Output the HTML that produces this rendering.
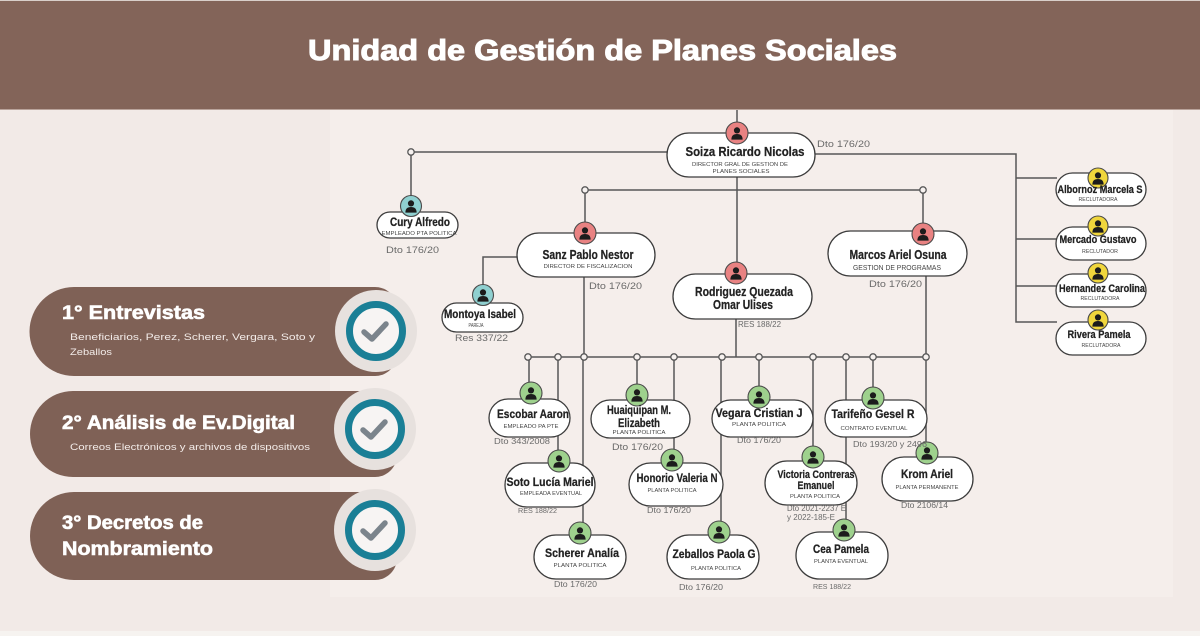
<!DOCTYPE html>
<html>
<head>
<meta charset="utf-8">
<style>
  html,body{margin:0;padding:0;width:1200px;height:636px;overflow:hidden;background:#f2eae7;}
  svg{display:block;}
  .n{font-family:"Liberation Sans",sans-serif;font-weight:bold;font-size:12px;fill:#222222;stroke:#222222;stroke-width:0.25px;text-anchor:middle;}
  .s{font-family:"Liberation Sans",sans-serif;font-size:5.5px;fill:#454545;text-anchor:middle;}
  .d{font-family:"Liberation Sans",sans-serif;font-size:9.5px;fill:#6a6a6a;}
  .lt{font-family:"Liberation Sans",sans-serif;font-weight:bold;font-size:19px;fill:#ffffff;stroke:#ffffff;stroke-width:0.6px;}
  .ls{font-family:"Liberation Sans",sans-serif;font-size:9.5px;fill:#f3ece9;}
</style>
</head>
<body>
<svg width="1200" height="636" viewBox="0 0 1200 636" xmlns="http://www.w3.org/2000/svg">
  <defs>
    <g id="p">
      <circle cx="0" cy="-2.6" r="3.1" fill="#1c1c1c"/>
      <path d="M-5.6 6.6 Q-5.6 1 0 1 Q5.6 1 5.6 6.6 Z" fill="#1c1c1c"/>
    </g>
  </defs>

  <!-- backgrounds -->
  <rect x="0" y="0" width="1200" height="636" fill="#f2eae7"/>
  <rect x="330" y="110" width="843" height="487" fill="#f5eeeb"/>
  <rect x="0" y="631" width="1200" height="5" fill="#f6f3f0"/>
  <!-- header -->
  <rect x="0" y="0" width="1200" height="1" fill="#d9cfca"/>
  <rect x="0" y="1" width="1200" height="108" fill="#836459"/>
  <rect x="0" y="109" width="1200" height="1" fill="#b9a39b"/>
  <text x="602.5" y="60" textLength="589" lengthAdjust="spacingAndGlyphs" style="font-family:'Liberation Sans',sans-serif;font-weight:bold;font-size:29px;fill:#ffffff;stroke:#ffffff;stroke-width:1px;text-anchor:middle;">Unidad de Gestión de Planes Sociales</text>

  <!-- left panel pills -->
  <path d="M74 287 H375 A22 22 0 0 1 397 309 V354 A22 22 0 0 1 375 376 H74 A44.5 44.5 0 0 1 74 287 Z" fill="#7f6156"/>
  <path d="M73 391 H375 A22 22 0 0 1 397 413 V455 A22 22 0 0 1 375 477 H73 A43 43 0 0 1 73 391 Z" fill="#7f6156"/>
  <path d="M74 492 H375 A22 22 0 0 1 397 514 V558 A22 22 0 0 1 375 580 H74 A44 44 0 0 1 74 492 Z" fill="#7f6156"/>

  <text class="lt" x="62" y="319" textLength="143" lengthAdjust="spacingAndGlyphs">1° Entrevistas</text>
  <text class="ls" x="70" y="340" textLength="245" lengthAdjust="spacingAndGlyphs">Beneficiarios, Perez, Scherer, Vergara, Soto y</text>
  <text class="ls" x="70" y="355" textLength="42" lengthAdjust="spacingAndGlyphs">Zeballos</text>

  <text class="lt" x="62" y="429" textLength="233" lengthAdjust="spacingAndGlyphs">2° Análisis de Ev.Digital</text>
  <text class="ls" x="70" y="450" textLength="240" lengthAdjust="spacingAndGlyphs">Correos Electrónicos y archivos de dispositivos</text>

  <text class="lt" x="62" y="529" textLength="141" lengthAdjust="spacingAndGlyphs">3° Decretos de</text>
  <text class="lt" x="62" y="555" textLength="151" lengthAdjust="spacingAndGlyphs">Nombramiento</text>

  <!-- check circles -->
  <g>
    <circle cx="376" cy="331" r="41" fill="#e7e1de"/>
    <circle cx="376" cy="331" r="26.5" fill="#f7f4f3" stroke="#1a7f96" stroke-width="7"/>
    <polyline points="364,332 372,339 386,324" fill="none" stroke="#7b848c" stroke-width="5.5" stroke-linecap="round" stroke-linejoin="round"/>
  </g>
  <g>
    <circle cx="375" cy="429" r="41" fill="#e7e1de"/>
    <circle cx="375" cy="429" r="26.5" fill="#f7f4f3" stroke="#1a7f96" stroke-width="7"/>
    <polyline points="363,430 371,437 385,422" fill="none" stroke="#7b848c" stroke-width="5.5" stroke-linecap="round" stroke-linejoin="round"/>
  </g>
  <g>
    <circle cx="375" cy="530" r="41" fill="#e7e1de"/>
    <circle cx="375" cy="530" r="26.5" fill="#f7f4f3" stroke="#1a7f96" stroke-width="7"/>
    <polyline points="363,531 371,538 385,523" fill="none" stroke="#7b848c" stroke-width="5.5" stroke-linecap="round" stroke-linejoin="round"/>
  </g>

  <!-- connector lines -->
  <g stroke="#575757" stroke-width="1.5" fill="none">
    <line x1="737" y1="110" x2="737" y2="133"/>
    <polyline points="667,152 411,152 411,207"/>
    <polyline points="815,154 1016,154 1016,322 1057,322"/>
    <line x1="1016" y1="178" x2="1057" y2="178"/>
    <line x1="1016" y1="239" x2="1057" y2="239"/>
    <line x1="1016" y1="286" x2="1057" y2="286"/>
    <line x1="737" y1="177" x2="737" y2="273"/>
    <line x1="585" y1="190" x2="923" y2="190"/>
    <line x1="585" y1="190" x2="585" y2="233"/>
    <line x1="923" y1="190" x2="923" y2="234"/>
    <polyline points="517,257 483,257 483,295"/>
    <line x1="584" y1="277" x2="584" y2="357"/>
    <line x1="736" y1="319" x2="736" y2="357"/>
    <line x1="926" y1="276" x2="926" y2="357"/>
    <line x1="528" y1="357" x2="926" y2="357"/>
    <line x1="529" y1="357" x2="529" y2="393"/>
    <line x1="558" y1="357" x2="558" y2="461"/>
    <line x1="583" y1="357" x2="583" y2="533"/>
    <line x1="637" y1="357" x2="637" y2="395"/>
    <line x1="674" y1="357" x2="674" y2="460"/>
    <line x1="721" y1="357" x2="721" y2="532"/>
    <line x1="759" y1="357" x2="759" y2="397"/>
    <line x1="813" y1="357" x2="813" y2="457"/>
    <line x1="846" y1="357" x2="846" y2="530"/>
    <line x1="873" y1="357" x2="873" y2="398"/>
    <line x1="926" y1="357" x2="926" y2="453"/>
  </g>
  <!-- junction circles -->
  <g fill="#f7f2f0" stroke="#575757" stroke-width="1.3">
    <circle cx="411" cy="152" r="3.2"/>
    <circle cx="585" cy="190" r="3.2"/>
    <circle cx="923" cy="190" r="3.2"/>
    <circle cx="528" cy="357" r="3.2"/>
    <circle cx="558" cy="357" r="3.2"/>
    <circle cx="584" cy="357" r="3.2"/>
    <circle cx="637" cy="357" r="3.2"/>
    <circle cx="674" cy="357" r="3.2"/>
    <circle cx="722" cy="357" r="3.2"/>
    <circle cx="759" cy="357" r="3.2"/>
    <circle cx="813" cy="357" r="3.2"/>
    <circle cx="846" cy="357" r="3.2"/>
    <circle cx="873" cy="357" r="3.2"/>
    <circle cx="926" cy="357" r="3.2"/>
  </g>

  <!-- node pills -->
  <g fill="#ffffff" stroke="#3c3c3c" stroke-width="1.3">
    <rect x="667" y="133" width="148" height="44" rx="22"/>
    <rect x="377" y="212" width="81" height="26" rx="13"/>
    <rect x="517" y="233" width="138" height="44" rx="22"/>
    <rect x="442" y="303" width="81" height="29" rx="14.5"/>
    <rect x="673" y="274" width="139" height="45" rx="22.5"/>
    <rect x="828" y="231" width="139" height="45" rx="22.5"/>
    <rect x="1056" y="173" width="90" height="33" rx="16.5"/>
    <rect x="1056" y="227" width="90" height="33" rx="16.5"/>
    <rect x="1056" y="274" width="90" height="33" rx="16.5"/>
    <rect x="1056" y="322" width="90" height="33" rx="16.5"/>
    <rect x="489" y="399" width="81" height="38" rx="19"/>
    <rect x="591" y="400" width="99" height="38" rx="19"/>
    <rect x="505" y="463" width="90" height="44" rx="22"/>
    <rect x="629" y="463" width="94" height="43" rx="21.5"/>
    <rect x="712" y="400" width="101" height="37" rx="18.5"/>
    <rect x="825" y="400" width="102" height="37" rx="18.5"/>
    <rect x="765" y="461" width="92" height="44" rx="22"/>
    <rect x="882" y="457" width="91" height="44" rx="22"/>
    <rect x="534" y="535" width="92" height="44" rx="22"/>
    <rect x="667" y="535" width="92" height="44" rx="22"/>
    <rect x="796" y="532" width="92" height="47" rx="23.5"/>
  </g>

  <!-- avatars -->
  <g stroke="#4a4a4a" stroke-width="1.1">
    <circle cx="737" cy="133" r="11" fill="#e98282"/>
    <circle cx="585" cy="233" r="11" fill="#e98282"/>
    <circle cx="736" cy="273" r="11" fill="#e98282"/>
    <circle cx="923" cy="234" r="11" fill="#e98282"/>
    <circle cx="411" cy="206" r="10.5" fill="#8fd0d0"/>
    <circle cx="483" cy="295" r="10.5" fill="#8fd0d0"/>
    <circle cx="1098" cy="178" r="10" fill="#f0d63c"/>
    <circle cx="1098" cy="226" r="10" fill="#f0d63c"/>
    <circle cx="1098" cy="273" r="10" fill="#f0d63c"/>
    <circle cx="1098" cy="320" r="10" fill="#f0d63c"/>
    <circle cx="531" cy="393" r="11" fill="#9ed18d"/>
    <circle cx="637" cy="395" r="11" fill="#9ed18d"/>
    <circle cx="559" cy="461" r="11" fill="#9ed18d"/>
    <circle cx="672" cy="460" r="11" fill="#9ed18d"/>
    <circle cx="759" cy="397" r="11" fill="#9ed18d"/>
    <circle cx="873" cy="398" r="11" fill="#9ed18d"/>
    <circle cx="813" cy="457" r="11" fill="#9ed18d"/>
    <circle cx="927" cy="453" r="11" fill="#9ed18d"/>
    <circle cx="580" cy="533" r="11" fill="#9ed18d"/>
    <circle cx="719" cy="532" r="11" fill="#9ed18d"/>
    <circle cx="844" cy="530" r="11" fill="#9ed18d"/>
  </g>
  <use href="#p" x="737" y="133"/>
  <use href="#p" x="585" y="233"/>
  <use href="#p" x="736" y="273"/>
  <use href="#p" x="923" y="234"/>
  <use href="#p" x="411" y="206"/>
  <use href="#p" x="483" y="295"/>
  <use href="#p" x="1098" y="178"/>
  <use href="#p" x="1098" y="226"/>
  <use href="#p" x="1098" y="273"/>
  <use href="#p" x="1098" y="320"/>
  <use href="#p" x="531" y="393"/>
  <use href="#p" x="637" y="395"/>
  <use href="#p" x="559" y="461"/>
  <use href="#p" x="672" y="460"/>
  <use href="#p" x="759" y="397"/>
  <use href="#p" x="873" y="398"/>
  <use href="#p" x="813" y="457"/>
  <use href="#p" x="927" y="453"/>
  <use href="#p" x="580" y="533"/>
  <use href="#p" x="719" y="532"/>
  <use href="#p" x="844" y="530"/>

  <!-- texts: top level -->
  <text class="n" x="745" y="156" textLength="119" lengthAdjust="spacingAndGlyphs" style="font-size:12.5px">Soiza Ricardo Nicolas</text>
  <text class="s" x="740" y="166" textLength="96" lengthAdjust="spacingAndGlyphs">DIRECTOR GRAL DE GESTION DE</text>
  <text class="s" x="741" y="173" textLength="57" lengthAdjust="spacingAndGlyphs">PLANES SOCIALES</text>
  <text class="d" x="817" y="147" textLength="53" lengthAdjust="spacingAndGlyphs">Dto 176/20</text>

  <text class="n" x="420" y="226" textLength="60" lengthAdjust="spacingAndGlyphs" style="font-size:11.5px">Cury Alfredo</text>
  <text class="s" x="419" y="235" textLength="75" lengthAdjust="spacingAndGlyphs" style="font-size:5px">EMPLEADO PTA POLITICA</text>
  <text class="d" x="386" y="253" textLength="53" lengthAdjust="spacingAndGlyphs">Dto 176/20</text>

  <text class="n" x="588" y="259" textLength="91" lengthAdjust="spacingAndGlyphs" style="font-size:12.5px">Sanz Pablo Nestor</text>
  <text class="s" x="588" y="268" textLength="89" lengthAdjust="spacingAndGlyphs">DIRECTOR DE FISCALIZACION</text>
  <text class="d" x="589" y="289" textLength="53" lengthAdjust="spacingAndGlyphs">Dto 176/20</text>

  <text class="n" x="480" y="318" textLength="72" lengthAdjust="spacingAndGlyphs" style="font-size:11.5px">Montoya Isabel</text>
  <text class="s" x="476" y="327" textLength="15" lengthAdjust="spacingAndGlyphs" style="font-size:5px">PAREJA</text>
  <text class="d" x="455" y="341" textLength="53" lengthAdjust="spacingAndGlyphs">Res 337/22</text>

  <text class="n" x="744" y="296" textLength="98" lengthAdjust="spacingAndGlyphs" style="font-size:12.5px">Rodriguez Quezada</text>
  <text class="n" x="743" y="309" textLength="60" lengthAdjust="spacingAndGlyphs" style="font-size:12.5px">Omar Ulises</text>
  <text class="d" x="738" y="327" textLength="43" lengthAdjust="spacingAndGlyphs" style="font-size:8px">RES 188/22</text>

  <text class="n" x="898" y="259" textLength="97" lengthAdjust="spacingAndGlyphs" style="font-size:12.5px">Marcos Ariel Osuna</text>
  <text class="s" x="897" y="270" textLength="88" lengthAdjust="spacingAndGlyphs" style="font-size:7px">GESTION DE PROGRAMAS</text>
  <text class="d" x="869" y="287" textLength="53" lengthAdjust="spacingAndGlyphs">Dto 176/20</text>

  <!-- right column -->
  <text class="n" x="1100" y="193" textLength="85" lengthAdjust="spacingAndGlyphs" style="font-size:11px">Albornoz Marcela S</text>
  <text class="s" x="1098" y="201" textLength="39" lengthAdjust="spacingAndGlyphs" style="font-size:5px">RECLUTADORA</text>
  <text class="n" x="1098" y="243" textLength="77" lengthAdjust="spacingAndGlyphs" style="font-size:11px">Mercado Gustavo</text>
  <text class="s" x="1100" y="253" textLength="36" lengthAdjust="spacingAndGlyphs" style="font-size:5px">RECLUTADOR</text>
  <text class="n" x="1102" y="292" textLength="86" lengthAdjust="spacingAndGlyphs" style="font-size:11px">Hernandez Carolina</text>
  <text class="s" x="1100" y="300" textLength="39" lengthAdjust="spacingAndGlyphs" style="font-size:5px">RECLUTADORA</text>
  <text class="n" x="1099" y="338" textLength="63" lengthAdjust="spacingAndGlyphs" style="font-size:11px">Rivera Pamela</text>
  <text class="s" x="1101" y="347" textLength="39" lengthAdjust="spacingAndGlyphs" style="font-size:5px">RECLUTADORA</text>

  <!-- lower rows -->
  <text class="n" x="533" y="418" textLength="72" lengthAdjust="spacingAndGlyphs">Escobar Aaron</text>
  <text class="s" x="531" y="428" textLength="55" lengthAdjust="spacingAndGlyphs" style="font-size:5px">EMPLEADO PA PTE</text>
  <text class="d" x="494" y="444" textLength="56" lengthAdjust="spacingAndGlyphs" style="font-size:8.5px">Dto 343/2008</text>

  <text class="n" x="639" y="414" textLength="64" lengthAdjust="spacingAndGlyphs">Huaiquipan M.</text>
  <text class="n" x="639" y="427" textLength="42" lengthAdjust="spacingAndGlyphs">Elizabeth</text>
  <text class="s" x="639" y="434" textLength="53" lengthAdjust="spacingAndGlyphs" style="font-size:5px">PLANTA POLITICA</text>
  <text class="d" x="612" y="450" textLength="51" lengthAdjust="spacingAndGlyphs">Dto 176/20</text>

  <text class="n" x="550" y="486" textLength="87" lengthAdjust="spacingAndGlyphs">Soto Lucía Mariel</text>
  <text class="s" x="551" y="495" textLength="62" lengthAdjust="spacingAndGlyphs" style="font-size:5px">EMPLEADA EVENTUAL</text>
  <text class="d" x="518" y="513" textLength="39" lengthAdjust="spacingAndGlyphs" style="font-size:7.5px">RES 188/22</text>

  <text class="n" x="677" y="482" textLength="81" lengthAdjust="spacingAndGlyphs">Honorio Valeria N</text>
  <text class="s" x="672" y="492" textLength="49" lengthAdjust="spacingAndGlyphs" style="font-size:5px">PLANTA POLITICA</text>
  <text class="d" x="647" y="513" textLength="44" lengthAdjust="spacingAndGlyphs" style="font-size:8.5px">Dto 176/20</text>

  <text class="n" x="759" y="417" textLength="87" lengthAdjust="spacingAndGlyphs">Vegara Cristian J</text>
  <text class="s" x="759" y="426" textLength="54" lengthAdjust="spacingAndGlyphs" style="font-size:5px">PLANTA POLITICA</text>
  <text class="d" x="737" y="443" textLength="44" lengthAdjust="spacingAndGlyphs" style="font-size:8.5px">Dto 176/20</text>

  <text class="n" x="873" y="418" textLength="83" lengthAdjust="spacingAndGlyphs">Tarifeño Gesel R</text>
  <text class="s" x="874" y="430" textLength="67" lengthAdjust="spacingAndGlyphs" style="font-size:5px">CONTRATO EVENTUAL</text>
  <text class="d" x="853" y="447" textLength="74" lengthAdjust="spacingAndGlyphs" style="font-size:8.5px">Dto 193/20 y 2496</text>

  <text class="n" x="816" y="478" textLength="77" lengthAdjust="spacingAndGlyphs" style="font-size:11px">Victoria Contreras</text>
  <text class="n" x="816" y="489" textLength="37" lengthAdjust="spacingAndGlyphs" style="font-size:11px">Emanuel</text>
  <text class="s" x="815" y="498" textLength="50" lengthAdjust="spacingAndGlyphs" style="font-size:5px">PLANTA POLITICA</text>
  <text class="d" x="787" y="511" textLength="59" lengthAdjust="spacingAndGlyphs" style="font-size:8px">Dto 2021-2237 E</text>
  <text class="d" x="787" y="520" textLength="48" lengthAdjust="spacingAndGlyphs" style="font-size:8px">y 2022-185-E</text>

  <text class="n" x="927" y="478" textLength="52" lengthAdjust="spacingAndGlyphs">Krom Ariel</text>
  <text class="s" x="927" y="489" textLength="63" lengthAdjust="spacingAndGlyphs" style="font-size:5px">PLANTA PERMANENTE</text>
  <text class="d" x="901" y="508" textLength="47" lengthAdjust="spacingAndGlyphs" style="font-size:8.5px">Dto 2106/14</text>

  <text class="n" x="582" y="557" textLength="74" lengthAdjust="spacingAndGlyphs">Scherer Analía</text>
  <text class="s" x="580" y="567" textLength="53" lengthAdjust="spacingAndGlyphs" style="font-size:5px">PLANTA POLITICA</text>
  <text class="d" x="554" y="587" textLength="43" lengthAdjust="spacingAndGlyphs" style="font-size:8.5px">Dto 176/20</text>

  <text class="n" x="714" y="558" textLength="83" lengthAdjust="spacingAndGlyphs">Zeballos Paola G</text>
  <text class="s" x="716" y="570" textLength="50" lengthAdjust="spacingAndGlyphs" style="font-size:5px">PLANTA POLITICA</text>
  <text class="d" x="679" y="590" textLength="44" lengthAdjust="spacingAndGlyphs" style="font-size:8.5px">Dto 176/20</text>

  <text class="n" x="841" y="553" textLength="56" lengthAdjust="spacingAndGlyphs">Cea Pamela</text>
  <text class="s" x="841" y="563" textLength="54" lengthAdjust="spacingAndGlyphs" style="font-size:5px">PLANTA EVENTUAL</text>
  <text class="d" x="813" y="589" textLength="38" lengthAdjust="spacingAndGlyphs" style="font-size:7.5px">RES 188/22</text>
</svg>
</body>
</html>
